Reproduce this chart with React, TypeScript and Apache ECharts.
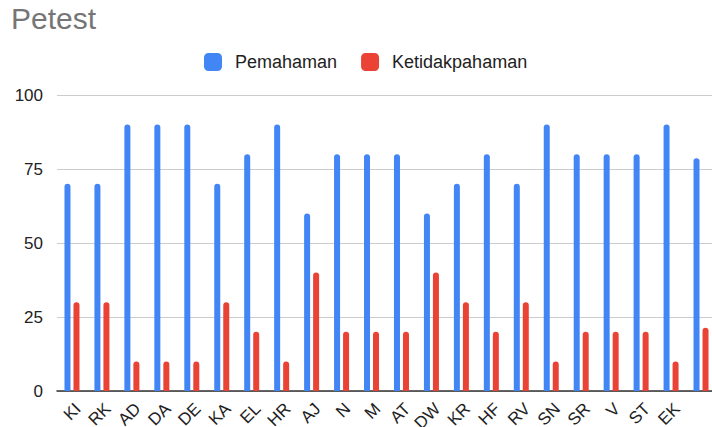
import React, { useEffect, useRef } from "react";
import * as echarts from "echarts";

const categories = ["KI", "RK", "AD", "DA", "DE", "KA", "EL", "HR", "AJ", "N", "M", "AT", "DW", "KR", "HF", "RV", "SN", "SR", "V", "ST", "EK", ""];
const pemahaman = [70, 70, 90, 90, 90, 70, 80, 90, 60, 80, 80, 80, 60, 70, 80, 70, 90, 80, 80, 80, 90, 78.6];
const ketidakpahaman = [30, 30, 10, 10, 10, 30, 20, 10, 40, 20, 20, 20, 40, 30, 20, 30, 10, 20, 20, 20, 10, 21.4];
const yTicks = { min: 0, max: 100, interval: 25 };

export default function App() {
  const ref = useRef<HTMLDivElement>(null);
  useEffect(() => {
    if (!ref.current) return;
    document.body.style.margin = "0";
    document.body.style.overflow = "hidden";
    const chart = echarts.init(ref.current, null, { renderer: "svg" });
    const font = "'Liberation Sans', Arial, sans-serif";
    chart.setOption({
      animation: false,
      backgroundColor: "#ffffff",
      title: {
        text: "Petest",
        left: 11,
        top: 3,
        padding: 0,
        textStyle: { fontFamily: font, fontSize: 30, fontWeight: "normal", color: "#757575" },
      },
      legend: {
        top: 53,
        left: 204,
        padding: 0,
        itemWidth: 18,
        itemHeight: 18,
        itemGap: 24,
        icon: "roundRect",
        textStyle: { fontFamily: font, fontSize: 18, color: "#222222", padding: [0, 0, 0, 8] },
        data: ["Pemahaman", "Ketidakpahaman"],
      },
      grid: {
        left: 57,
        top: 95,
        width: 659,
        height: 296,
        containLabel: false,
        outerBoundsMode: "none",
      },
      xAxis: {
        type: "category",
        data: categories,
        axisTick: { show: false },
        axisLine: { lineStyle: { color: "#333333", width: 1.5 } },
        axisLabel: {
          rotate: 45,
          interval: 0,
          margin: 9,
          align: "right",
          verticalAlign: "top",
          fontFamily: font,
          fontSize: 17,
          color: "#222222",
        },
      },
      yAxis: {
        type: "value",
        min: yTicks.min,
        max: yTicks.max,
        interval: yTicks.interval,
        axisLine: { show: false },
        axisTick: { show: false },
        splitLine: { lineStyle: { color: "#cccccc" } },
        axisLabel: { fontFamily: font, fontSize: 17, color: "#222222", margin: 14 },
      },
      series: [
        {
          name: "Pemahaman",
          type: "bar",
          data: pemahaman,
          barWidth: 6,
          barGap: "50%",
          itemStyle: { color: "#4285F4", borderRadius: [3, 3, 0, 0] },
        },
        {
          name: "Ketidakpahaman",
          type: "bar",
          data: ketidakpahaman,
          barWidth: 6,
          itemStyle: { color: "#EA4335", borderRadius: [3, 3, 0, 0] },
        },
      ],
    });
    return () => chart.dispose();
  }, []);
  return (
    <div
      ref={ref}
      style={{ position: "absolute", left: 0, top: 0, width: 712, height: 427, overflow: "hidden" }}
    />
  );
}
